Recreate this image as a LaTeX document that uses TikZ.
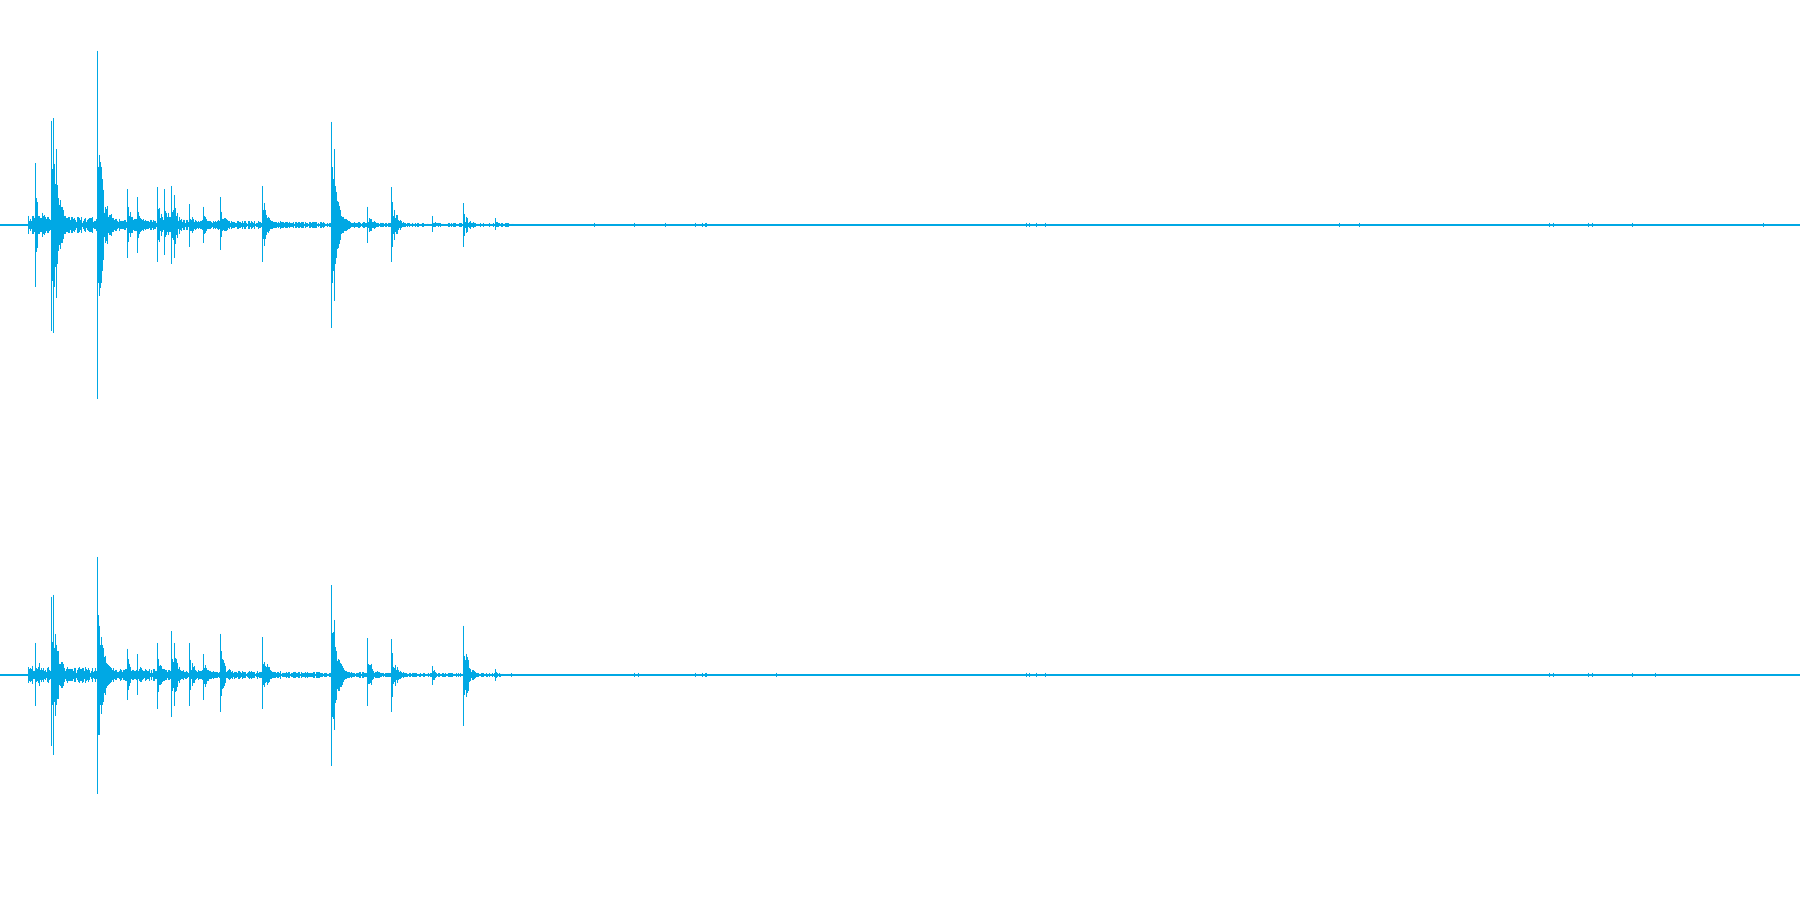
\documentclass[tikz,border=0pt]{standalone}
\definecolor{wave}{RGB}{0,168,228}
\newcommand{\burst}[4]{% x0, top y, bottom y, center y
  \draw[wv] (#1,#2) -- (#1,#3);
  \foreach \i in {1,...,40}{
    \pgfmathsetmacro{\xx}{#1+\i*0.5}
    \pgfmathsetmacro{\f}{exp(-\i/10)*(0.15+0.55*rnd)}
    \pgfmathsetmacro{\ya}{#4-(#4-#2)*\f}
    \pgfmathsetmacro{\yb}{#4+(#3-#4)*\f}
    \draw[wv] (\xx,\ya) -- (\xx,\yb);
  }}
\newcommand{\noise}[1]{% center
  \foreach \i in {0,...,650}{
    \pgfmathsetmacro{\xx}{25+\i*0.65}
    \pgfmathsetmacro{\a}{(0.6+8*exp(-\i/300))*(0.3+0.7*rnd)}
    \draw[wv] (\xx,#1-\a) -- (\xx,#1+\a);
  }}
\begin{document}
\begin{tikzpicture}[x=0.011480cm,y=-0.011480cm,wv/.style={draw=wave,line width=0.3pt}]
\pgfmathsetseed{7}
\useasboundingbox (0,0) rectangle (1568,784);
\fill[white] (0,0) rectangle (1568,784);
% baselines
\draw[wv,line width=0.45pt] (0,196) -- (1568,196);
\draw[wv,line width=0.45pt] (0,588) -- (1568,588);
\noise{196}
\noise{588}
% top channel
\burst{31}{142}{250}{196}
\burst{45}{105}{288}{196}
\burst{47}{103}{290}{196}
\burst{49}{130}{260}{196}
\burst{85}{44}{348}{196}
\burst{87}{135}{258}{196}
\burst{111}{165}{225}{196}
\burst{120}{172}{220}{196}
\burst{137}{163}{228}{196}
\burst{143}{165}{222}{196}
\burst{149}{162}{230}{196}
\burst{152}{170}{225}{196}
\burst{165}{178}{215}{196}
\burst{177}{180}{212}{196}
\burst{192}{172}{218}{196}
\burst{229}{162}{228}{196}
\burst{289}{106}{286}{196}
\burst{291}{130}{262}{196}
\burst{320}{180}{212}{196}
\burst{341}{163}{228}{196}
\burst{377}{188}{202}{196}
\burst{404}{177}{215}{196}
\burst{432}{190}{200}{196}
% bottom channel
\burst{31}{560}{615}{588}
\burst{45}{520}{650}{588}
\burst{47}{518}{658}{588}
\burst{85}{485}{692}{588}
\burst{87}{545}{640}{588}
\burst{111}{565}{610}{588}
\burst{120}{570}{605}{588}
\burst{137}{560}{618}{588}
\burst{149}{550}{625}{588}
\burst{152}{560}{615}{588}
\burst{165}{560}{615}{588}
\burst{177}{570}{610}{588}
\burst{192}{552}{620}{588}
\burst{229}{555}{618}{588}
\burst{289}{510}{667}{588}
\burst{291}{540}{636}{588}
\burst{320}{556}{615}{588}
\burst{341}{557}{620}{588}
\burst{377}{580}{597}{588}
\burst{404}{545}{632}{588}
\burst{432}{583}{593}{588}
% sparse tiny ticks
\foreach \x in {518,553,580,606,612,615,894,897,903,911,1167,1184,1350,1353,1384,1387,1422,1536}{
  \draw[wv] (\x,194) -- (\x,198);}
\foreach \x in {553,556,606,612,615,676,894,897,903,911,1350,1353,1384,1387,1422,1442}{
  \draw[wv] (\x,586) -- (\x,590);}
\end{tikzpicture}
\end{document}
